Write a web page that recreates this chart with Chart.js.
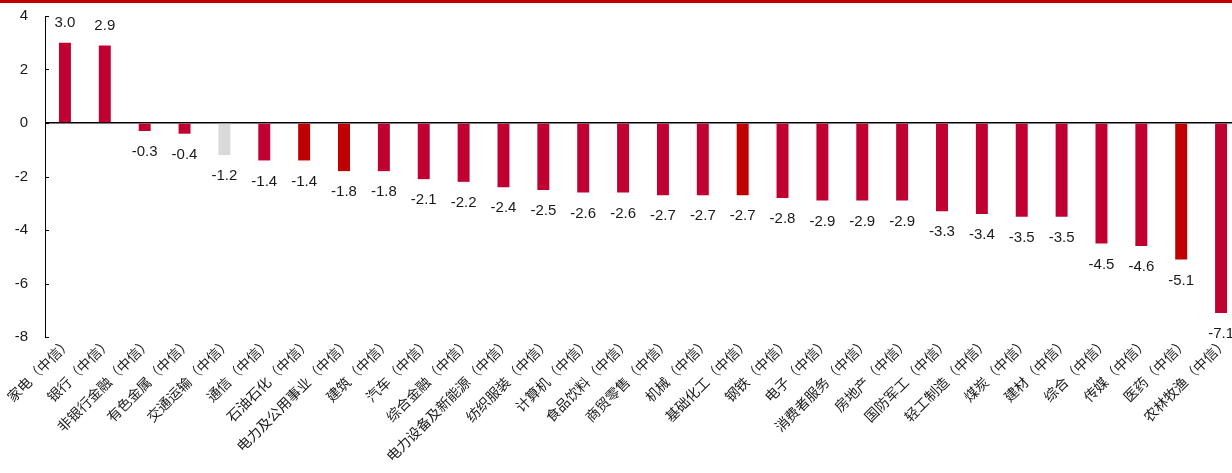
<!DOCTYPE html>
<html>
<head>
<meta charset="utf-8">
<script src="https://cdn.jsdelivr.net/npm/chart.js@4.4.0/dist/chart.umd.min.js"></script>
<style>
    html, body { margin: 0; padding: 0; background: #fff; overflow: hidden; }
    #wrap { position: relative; width: 1232px; height: 473px; overflow: hidden; }
    #topLine { position: absolute; left: 0; top: 0; width: 1232px; height: 3px; background: #C00000; }
    #chart { position: absolute; left: 0; top: 0; }
</style>
</head>
<body>
<div id="wrap">
    <canvas id="chart" width="1245" height="473"></canvas>
    <div id="topLine"></div>
</div>
<script>
// Industry names (CITIC level-1 indices)
const categories = [
    '家电（中信）', '银行（中信）', '非银行金融（中信）', '有色金属（中信）', '交通运输（中信）',
    '通信（中信）', '石油石化（中信）', '电力及公用事业（中信）', '建筑（中信）', '汽车（中信）',
    '综合金融（中信）', '电力设备及新能源（中信）', '纺织服装（中信）', '计算机（中信）', '食品饮料（中信）',
    '商贸零售（中信）', '机械（中信）', '基础化工（中信）', '钢铁（中信）', '电子（中信）',
    '消费者服务（中信）', '房地产（中信）', '国防军工（中信）', '轻工制造（中信）', '煤炭（中信）',
    '建材（中信）', '综合（中信）', '传媒（中信）', '医药（中信）', '农林牧渔（中信）'
];

// Return (%)
const values = [
    3.0, 2.9, -0.3, -0.4, -1.2,
    -1.4, -1.4, -1.8, -1.8, -2.1,
    -2.2, -2.4, -2.5, -2.6, -2.6,
    -2.7, -2.7, -2.7, -2.8, -2.9,
    -2.9, -2.9, -3.3, -3.4, -3.5,
    -3.5, -4.5, -4.6, -5.1, -7.1
];

// colour group of each bar: 0 normal, 1 highlighted, 2 grey
const colourGroup = [
    0, 0, 0, 0, 2,
    0, 1, 1, 0, 0,
    0, 0, 0, 0, 0,
    0, 0, 1, 0, 0,
    0, 0, 0, 0, 0,
    0, 0, 0, 1, 0
];

const yTicks = [4, 2, 0, -2, -4, -6, -8];

const palette = ['#C00030', '#C00000', '#D9D9D9'];
const numFont = "'Liberation Sans', Arial, sans-serif";

// value labels above / below each bar
const valueLabels = {
    id: 'valueLabels',
    afterDatasetsDraw(chart) {
        const ctx = chart.ctx;
        const meta = chart.getDatasetMeta(0);
        ctx.save();
        ctx.font = '15px ' + numFont;
        ctx.fillStyle = '#1a1a1a';
        ctx.textAlign = 'center';
        ctx.textBaseline = 'middle';
        meta.data.forEach((bar, i) => {
            const v = values[i];
            const y = v >= 0 ? bar.y - 20 : bar.y + 21;
            ctx.fillText(v.toFixed(1), bar.x, y);
        });
        ctx.restore();
    }
};

// small inward tick marks on the y axis
const innerTicks = {
    id: 'innerTicks',
    afterDraw(chart) {
        const ctx = chart.ctx;
        const y = chart.scales.y;
        ctx.save();
        ctx.strokeStyle = '#000';
        ctx.lineWidth = 1;
        yTicks.forEach(t => {
            const py = Math.round(y.getPixelForValue(t)) + 0.5;
            ctx.beginPath();
            ctx.moveTo(y.right, py);
            ctx.lineTo(y.right + 4, py);
            ctx.stroke();
        });
        ctx.restore();
    }
};

const ctx = document.getElementById('chart').getContext('2d');
new Chart(ctx, {
    type: 'bar',
    data: {
        labels: categories,
        datasets: [{
            data: values,
            backgroundColor: colourGroup.map(g => palette[g]),
            barPercentage: 0.3,
            categoryPercentage: 1.0
        }]
    },
    options: {
        responsive: false,
        animation: false,
        layout: { padding: { top: 16, right: 4, left: 0, bottom: 0 } },
        plugins: {
            legend: { display: false },
            tooltip: { enabled: false }
        },
        scales: {
            x: {
                grid: { display: false, drawTicks: false },
                border: { display: false },
                ticks: {
                    autoSkip: false,
                    minRotation: 45,
                    maxRotation: 45,
                    padding: -3,
                    labelOffset: 4,
                    color: '#1a1a1a',
                    font: { family: "'Noto Sans CJK SC', sans-serif", size: 14 }
                },
                afterFit(scale) {
                    scale.height = 136;
                    scale.paddingLeft = 0;
                    scale.paddingRight = 0;
                }
            },
            y: {
                min: -8,
                max: 4,
                afterBuildTicks(scale) {
                    scale.ticks = yTicks.map(v => ({ value: v }));
                },
                grid: {
                    drawTicks: false,
                    color: c => (c.tick && c.tick.value === 0 ? '#000' : 'rgba(0,0,0,0)'),
                    lineWidth: 1.5
                },
                border: { display: true, color: '#000', width: 1 },
                ticks: {
                    padding: 17,
                    color: '#1a1a1a',
                    font: { family: numFont, size: 15 },
                    callback: v => String(v)
                },
                afterFit(scale) {
                    scale.width = 45;
                    scale.paddingTop = 0;
                    scale.paddingBottom = 0;
                }
            }
        }
    },
    plugins: [valueLabels, innerTicks]
});
</script>
</body>
</html>
